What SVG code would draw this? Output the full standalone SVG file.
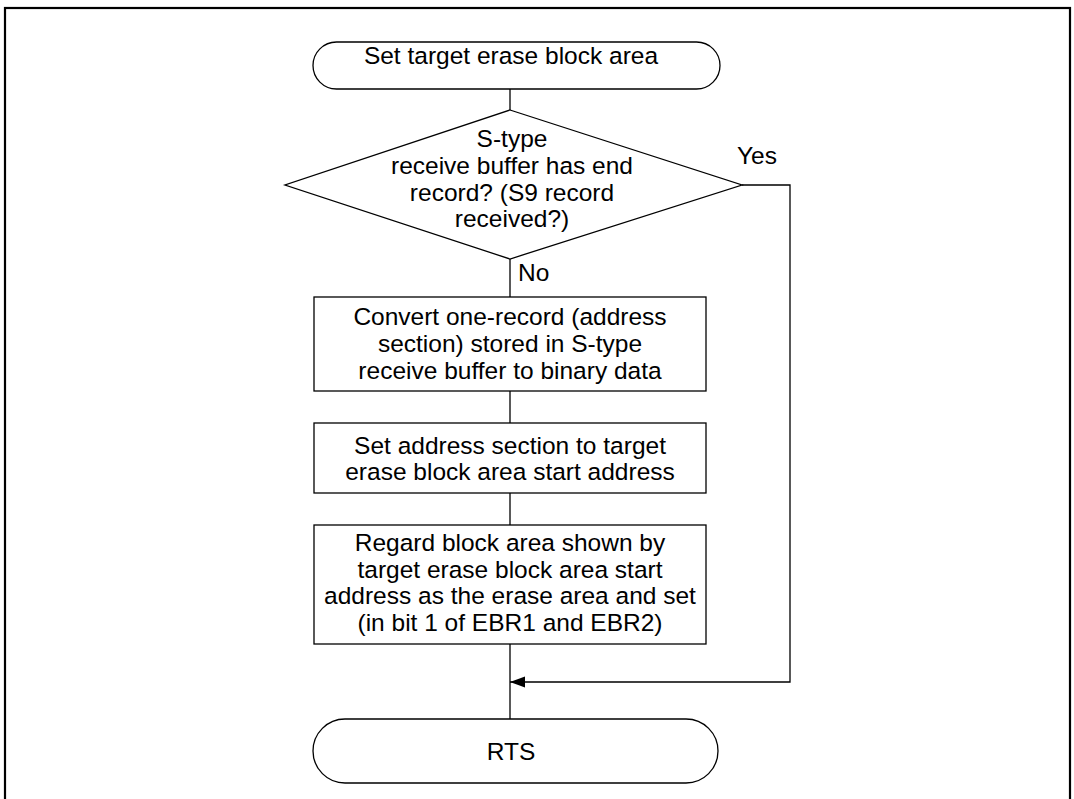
<svg xmlns="http://www.w3.org/2000/svg" width="1074" height="799" viewBox="0 0 1074 799">
<defs>
<style>
.s{fill:#fff;stroke:#000;stroke-width:1.3}
.t{font-family:"Liberation Sans",Arial,sans-serif;font-size:24.5px;fill:#000;text-anchor:middle}
.l{font-family:"Liberation Sans",Arial,sans-serif;font-size:24.5px;fill:#000}
.c{fill:none;stroke:#000;stroke-width:1.3}
</style>
<marker id="ah" markerWidth="16" markerHeight="12" refX="15" refY="5.5" orient="auto" markerUnits="userSpaceOnUse">
<path d="M0,0 L15,5.5 L0,11 Z" fill="#000"/>
</marker>
</defs>
<rect x="5" y="8" width="1065" height="810" fill="none" stroke="#000" stroke-width="2.2"/>
<g id="connectors">
<path class="c" d="M510,89 V110"/>
<path class="c" d="M510,259 V297"/>
<path class="c" d="M510,391 V423"/>
<path class="c" d="M510,493 V525"/>
<path class="c" d="M510,644 V719"/>
<path class="c" d="M742,185 H790 V682 H510" marker-end="url(#ah)"/>
<text class="l" x="737" y="164">Yes</text>
<text class="l" x="518" y="281">No</text>
</g>
<g id="start">
<rect class="s" x="313" y="42" width="407" height="47" rx="23.5" ry="23.5"/>
<text class="t" x="511" y="64">Set target erase block area</text>
</g>
<g id="decision">
<polygon class="s" points="510,110 742,185 510,259 285,185"/>
<text class="t" x="512" y="147">S-type</text>
<text class="t" x="512" y="174">receive buffer has end</text>
<text class="t" x="512" y="201">record? (S9 record</text>
<text class="t" x="512" y="227">received?)</text>
</g>
<g id="convert">
<rect class="s" x="314" y="297" width="392" height="94"/>
<text class="t" x="510" y="325">Convert one-record (address</text>
<text class="t" x="510" y="352">section) stored in S-type</text>
<text class="t" x="510" y="379">receive buffer to binary data</text>
</g>
<g id="setaddr">
<rect class="s" x="314" y="423" width="392" height="70"/>
<text class="t" x="510" y="454">Set address section to target</text>
<text class="t" x="510" y="480">erase block area start address</text>
</g>
<g id="regard">
<rect class="s" x="314" y="525" width="392" height="119"/>
<text class="t" x="510" y="551">Regard block area shown by</text>
<text class="t" x="510" y="578">target erase block area start</text>
<text class="t" x="510" y="604">address as the erase area and set</text>
<text class="t" x="510" y="631">(in bit 1 of EBR1 and EBR2)</text>
</g>
<g id="rts">
<rect class="s" x="313" y="719" width="405" height="64" rx="32" ry="32"/>
<text class="t" x="511" y="760">RTS</text>
</g>
</svg>
